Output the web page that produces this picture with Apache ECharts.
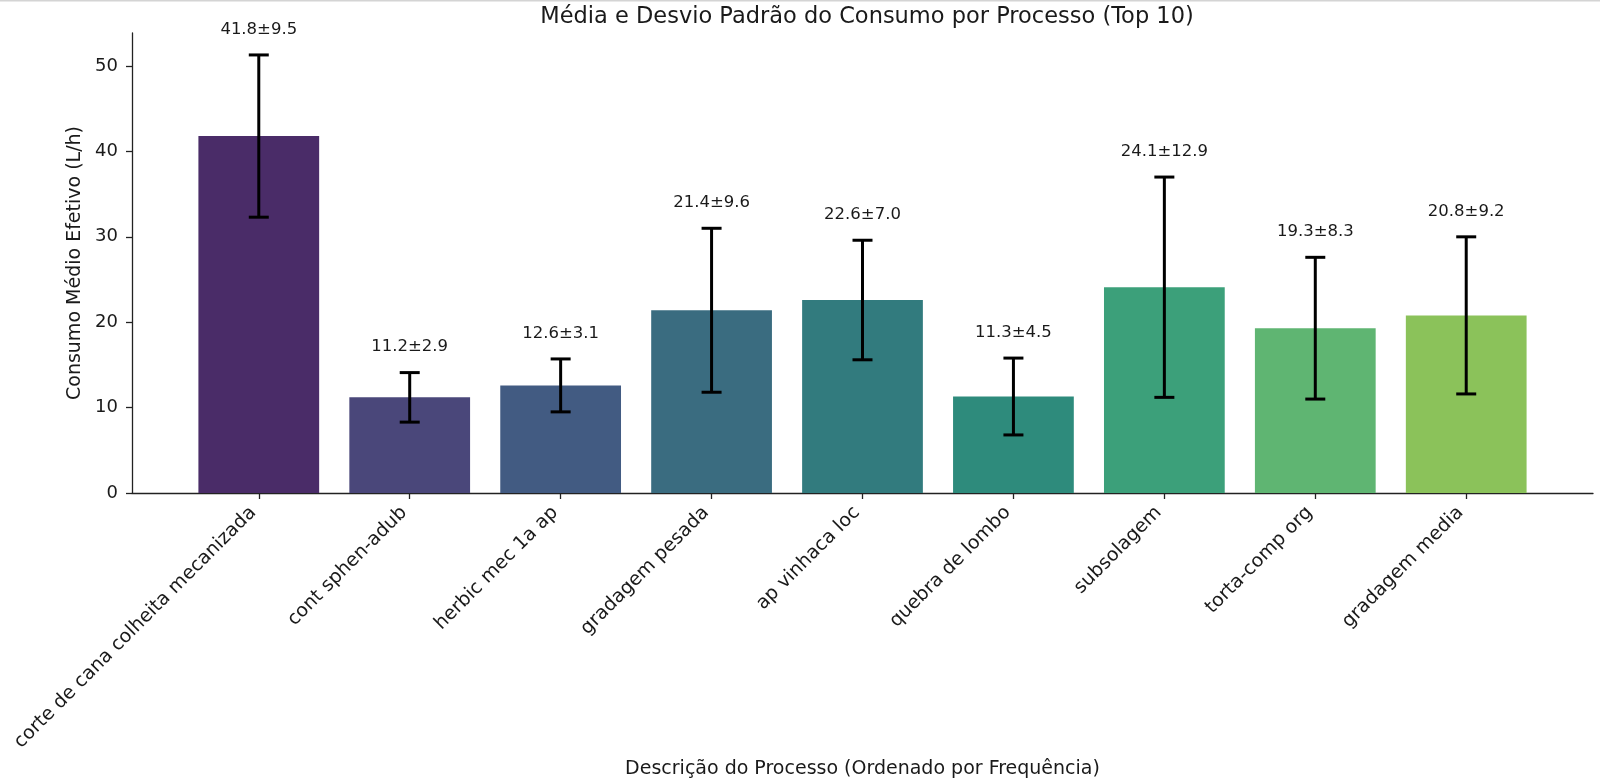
<!DOCTYPE html>
<html>
<head>
<meta charset="utf-8">
<title>Média e Desvio Padrão do Consumo por Processo</title>
<script src="https://cdn.jsdelivr.net/npm/echarts@6/dist/echarts.min.js"></script>
<style>
    html, body { margin: 0; padding: 0; background: #fff; }
    #chart { width: 1600px; height: 784px; }
</style>
</head>
<body>
<div id="chart"></div>
<script>
// dados
var categories = ['corte de cana colheita mecanizada', 'cont sphen-adub', 'herbic mec 1a ap', 'gradagem pesada',
    'ap vinhaca loc', 'quebra de lombo', 'subsolagem', 'torta-comp org', 'gradagem media'];
var means = [41.8, 11.2, 12.6, 21.4, 22.6, 11.3, 24.1, 19.3, 20.8];
var stds = [9.5, 2.9, 3.1, 9.6, 7.0, 4.5, 12.9, 8.3, 9.2];
var barColors = ['#4a2c68', '#4a477a', '#425b82', '#3a6c80', '#327b7e', '#2e8b7c', '#3ca07a', '#5fb572', '#8bc25a'];
var yTicks = [0, 10, 20, 30, 40, 50];
var xTicks = [0, 1, 2, 3, 4, 5, 6, 7, 8];

var FONT = 'DejaVu Sans';
var INK = '#1a1a1a';

function renderBar(params, api) {
    var i = api.value(0), m = api.value(1);
    var p1 = api.coord([i - 0.4, m]);
    var p2 = api.coord([i + 0.4, 0]);
    return {
        type: 'rect',
        shape: { x: p1[0], y: p1[1], width: p2[0] - p1[0], height: p2[1] - p1[1] },
        style: { fill: barColors[params.dataIndex] }
    };
}

function renderErr(params, api) {
    var i = api.value(0), m = api.value(1), s = api.value(2);
    var hi = api.coord([i, m + s]);
    var lo = api.coord([i, m - s]);
    var txt = api.coord([i, m + s + 2]);
    var cap = 10;
    var ls = { stroke: '#000', lineWidth: 3 };
    return {
        type: 'group',
        children: [
            { type: 'line', shape: { x1: hi[0], y1: hi[1], x2: lo[0], y2: lo[1] }, style: ls },
            { type: 'line', shape: { x1: hi[0] - cap, y1: hi[1], x2: hi[0] + cap, y2: hi[1] }, style: ls },
            { type: 'line', shape: { x1: lo[0] - cap, y1: lo[1], x2: lo[0] + cap, y2: lo[1] }, style: ls },
            {
                type: 'text',
                x: txt[0], y: txt[1],
                style: {
                    text: m.toFixed(1) + '±' + s.toFixed(1),
                    align: 'center', verticalAlign: 'bottom',
                    fontFamily: FONT, fontSize: 16.5, fill: INK
                }
            }
        ]
    };
}

var data = means.map(function (m, i) { return [i, m, stds[i]]; });

var chart = echarts.init(document.getElementById('chart'), null, { renderer: 'canvas' });
var option = {
    animation: false,
    backgroundColor: '#ffffff',
    textStyle: { fontFamily: FONT },
    title: {
        text: 'Média e Desvio Padrão do Consumo por Processo (Top 10)',
        left: 862,
        textAlign: 'center',
        top: 1,
        textStyle: { fontFamily: FONT, fontSize: 22.5, fontWeight: 'normal', color: INK }
    },
    graphic: [
        // faixa cinza do topo da captura
        { type: 'rect', left: 0, top: 0, shape: { width: 1600, height: 1.5 }, style: { fill: '#d4d4d4' } }
    ],
    grid: { left: 132, right: 7, top: 33, bottom: 290 },
    xAxis: {
        type: 'value',
        min: -0.84,
        max: 8.84,
        name: 'Descrição do Processo (Ordenado por Frequência)',
        nameLocation: 'middle',
        nameGap: 267,
        nameTextStyle: { fontFamily: FONT, fontSize: 19, color: INK },
        axisLine: { show: true, onZero: false, lineStyle: { color: '#222', width: 1.3 } },
        axisTick: { show: true, customValues: xTicks, length: 6, lineStyle: { color: '#222', width: 1.3 } },
        axisLabel: {
            customValues: xTicks,
            rotate: 45,
            margin: 11,
            padding: [0, 8, 0, 0],
            fontSize: 19,
            color: INK,
            formatter: function (v) { return categories[v]; }
        },
        splitLine: { show: false }
    },
    yAxis: {
        type: 'value',
        min: 0,
        max: 53.87,
        name: 'Consumo Médio Efetivo (L/h)',
        nameLocation: 'middle',
        nameGap: 46,
        nameTextStyle: { fontFamily: FONT, fontSize: 19, color: INK },
        axisLine: { show: true, onZero: false, lineStyle: { color: '#222', width: 1.3 } },
        axisTick: { show: true, customValues: yTicks, length: 6, lineStyle: { color: '#222', width: 1.3 } },
        axisLabel: { customValues: yTicks, margin: 14, fontSize: 18, color: INK },
        splitLine: { show: false }
    },
    series: [
        {
            type: 'custom',
            name: 'média',
            renderItem: renderBar,
            encode: { x: 0, y: 1 },
            data: data
        },
        {
            type: 'custom',
            name: 'desvio',
            renderItem: renderErr,
            encode: { x: 0, y: 1 },
            data: data,
            z: 3
        }
    ]
};
chart.setOption(option);
</script>
</body>
</html>
